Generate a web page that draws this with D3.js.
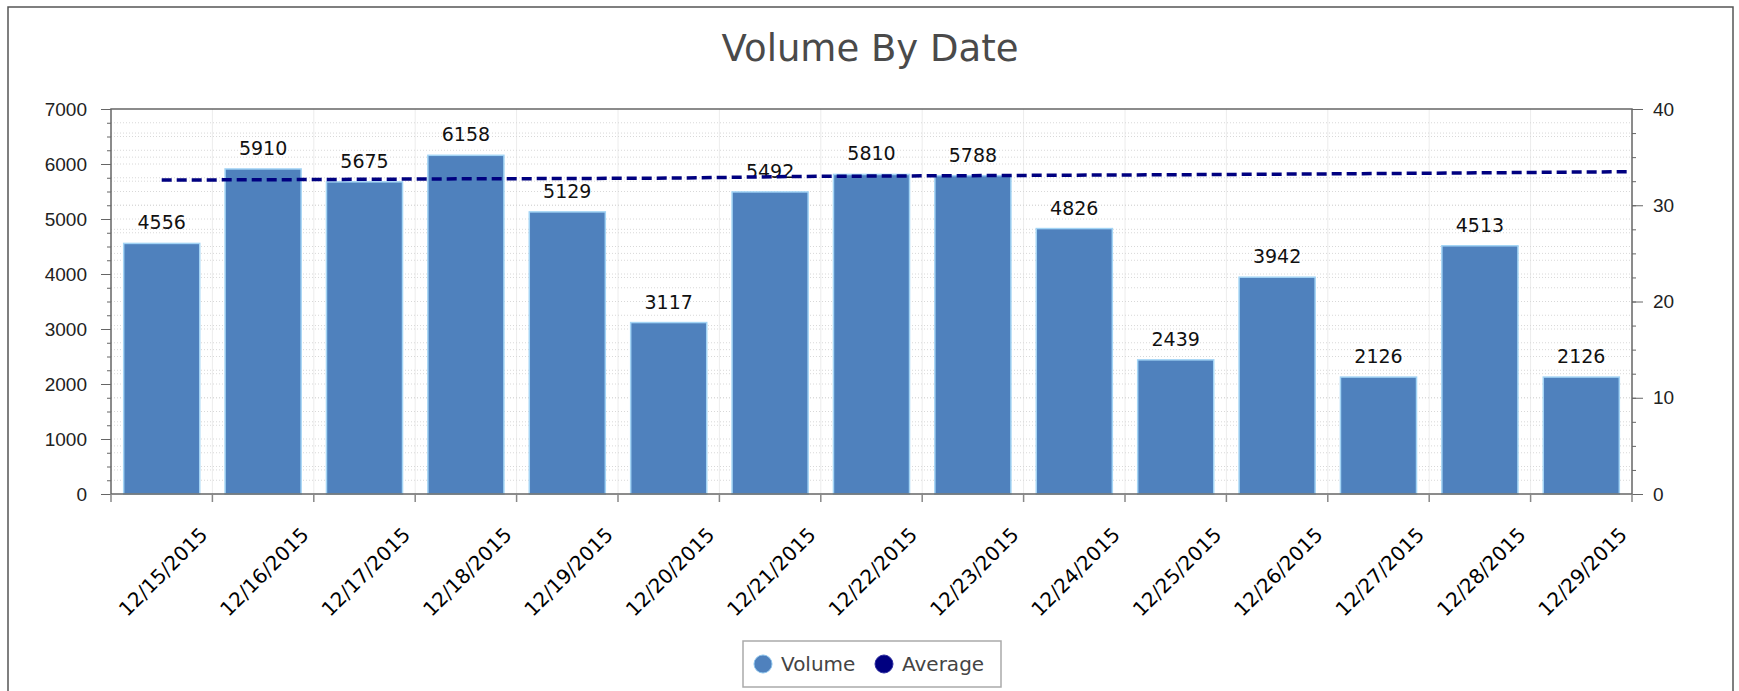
<!DOCTYPE html>
<html>
<head>
<meta charset="utf-8">
<script src="https://cdn.jsdelivr.net/npm/d3@7"></script>
<style>
  body { margin: 0; background: #fff; }
  svg { display: block; font-family: "DejaVu Sans", Verdana, sans-serif; }
  .grid line { stroke: #d8d8d8; stroke-dasharray: 1,2; }
  .vgrid line { stroke: #ececec; }
  .axis path, .axis line { stroke: #666; }
  .axis text { fill: #222; font-size: 19px; }
</style>
</head>
<body>
<svg id="chart" width="1739" height="691"></svg>
<script>
"use strict";

var dates = ["12/15/2015", "12/16/2015", "12/17/2015", "12/18/2015", "12/19/2015",
  "12/20/2015", "12/21/2015", "12/22/2015", "12/23/2015", "12/24/2015",
  "12/25/2015", "12/26/2015", "12/27/2015", "12/28/2015", "12/29/2015"];
var volume = [4556, 5910, 5675, 6158, 5129, 3117, 5492, 5810, 5788, 4826, 2439, 3942, 2126, 4513, 2126];
var average = [32.62, 32.65, 32.70, 32.75, 32.78, 32.83, 32.99, 33.04, 33.09, 33.14, 33.19, 33.25, 33.32, 33.40, 33.49];
var leftTicks = [0, 1000, 2000, 3000, 4000, 5000, 6000, 7000];
var rightTicks = [0, 10, 20, 30, 40];
var legendItems = [{ name: "Volume", color: "#4f81bd" }, { name: "Average", color: "#000080" }];

var W = 1739, H = 691;
var plot = { left: 111, top: 109, right: 1632, bottom: 494 };

var svg = d3.select("#chart");

// outer frame, bottom edge falls outside the picture
svg.append("rect")
  .attr("x", 8).attr("y", 7)
  .attr("width", 1725).attr("height", 700)
  .attr("fill", "none")
  .attr("stroke", "#555")
  .attr("stroke-width", 1.5);

svg.append("text")
  .attr("x", 870).attr("y", 61)
  .attr("text-anchor", "middle")
  .attr("fill", "#4a4a4a")
  .style("font-size", "37px")
  .text("Volume By Date");

var x = d3.scaleBand()
  .domain(dates)
  .range([plot.left, plot.right])
  .paddingInner(0.25)
  .paddingOuter(0.125);

var yL = d3.scaleLinear().domain([0, 7000]).range([plot.bottom, plot.top]);
var yR = d3.scaleLinear().domain([0, 40]).range([plot.bottom, plot.top]);

var xLine = d3.scalePoint()
  .domain(dates)
  .range([x(dates[0]) + x.bandwidth() / 2, plot.right - 4]);

var boundaries = dates.map(function(d) {
  return x(d) - x.step() * x.paddingInner() / 2;
}).concat([plot.right]);

// grid
svg.append("g")
  .attr("class", "vgrid")
  .selectAll("line")
  .data(boundaries.slice(1, -1))
  .join("line")
  .attr("x1", function(d) { return d; })
  .attr("x2", function(d) { return d; })
  .attr("y1", plot.top).attr("y2", plot.bottom);

svg.append("g")
  .attr("class", "grid")
  .selectAll("line")
  .data(d3.range(250, 7000, 250))
  .join("line")
  .attr("x1", plot.left).attr("x2", plot.right)
  .attr("y1", function(d) { return yL(d); })
  .attr("y2", function(d) { return yL(d); });

svg.append("g")
  .attr("class", "grid")
  .selectAll("line")
  .data(d3.range(2.5, 40, 2.5))
  .join("line")
  .attr("x1", plot.left).attr("x2", plot.right)
  .attr("y1", function(d) { return yR(d); })
  .attr("y2", function(d) { return yR(d); });

// bars
svg.append("g")
  .selectAll("rect")
  .data(volume)
  .join("rect")
  .attr("x", function(d, i) { return x(dates[i]); })
  .attr("y", function(d) { return yL(d); })
  .attr("width", x.bandwidth())
  .attr("height", function(d) { return yL(0) - yL(d); })
  .attr("fill", "#4f81bd")
  .attr("stroke", "#a3d4f5")
  .attr("stroke-width", 1.5);

svg.append("g")
  .selectAll("text")
  .data(volume)
  .join("text")
  .attr("x", function(d, i) { return x(dates[i]) + x.bandwidth() / 2; })
  .attr("y", function(d) { return yL(d) - 14; })
  .attr("text-anchor", "middle")
  .attr("fill", "#111")
  .style("font-size", "19px")
  .text(function(d) { return d; });

// average line
var line = d3.line()
  .x(function(d, i) { return xLine(dates[i]); })
  .y(function(d) { return yR(d); });

svg.append("path")
  .datum(average)
  .attr("d", line)
  .attr("fill", "none")
  .attr("stroke", "#000080")
  .attr("stroke-width", 3.5)
  .attr("stroke-dasharray", "10,5");

// frame
svg.append("rect")
  .attr("x", plot.left).attr("y", plot.top)
  .attr("width", plot.right - plot.left)
  .attr("height", plot.bottom - plot.top)
  .attr("fill", "none")
  .attr("stroke", "#666")
  .attr("stroke-width", 1.5);

// axes
var leftAxis = svg.append("g")
  .attr("class", "axis")
  .attr("transform", "translate(" + plot.left + ",0)")
  .call(d3.axisLeft(yL).tickValues(leftTicks).tickSize(10).tickPadding(14).tickFormat(d3.format("d")));

svg.append("g")
  .attr("class", "axis")
  .attr("transform", "translate(" + plot.left + ",0)")
  .call(d3.axisLeft(yL).tickValues(d3.range(250, 7000, 250)).tickSize(4).tickFormat(""));

svg.append("g")
  .attr("class", "axis")
  .attr("transform", "translate(" + plot.right + ",0)")
  .call(d3.axisRight(yR).tickValues(rightTicks).tickSize(11).tickPadding(10));

svg.append("g")
  .attr("class", "axis")
  .attr("transform", "translate(" + plot.right + ",0)")
  .call(d3.axisRight(yR).tickValues(d3.range(2.5, 40, 2.5)).tickSize(4).tickFormat(""));

svg.selectAll(".axis path.domain").remove();

svg.append("g")
  .selectAll("line")
  .data(boundaries)
  .join("line")
  .attr("x1", function(d) { return d; })
  .attr("x2", function(d) { return d; })
  .attr("y1", plot.bottom).attr("y2", plot.bottom + 8)
  .attr("stroke", "#888")
  .attr("stroke-width", 1.5);

svg.append("g")
  .selectAll("text")
  .data(dates)
  .join("text")
  .attr("transform", function(d) {
    var px = x(d) + x.bandwidth() / 2 + 47;
    return "translate(" + px + "," + (plot.bottom + 42) + ") rotate(-45)";
  })
  .attr("text-anchor", "end")
  .attr("fill", "#000")
  .style("font-size", "20px")
  .text(function(d) { return d; });

// legend
var legend = svg.append("g");
legend.append("rect")
  .attr("x", 743).attr("y", 641)
  .attr("width", 258).attr("height", 46)
  .attr("fill", "#fff")
  .attr("stroke", "#aaa")
  .attr("stroke-width", 1.5);

var legendX = [763, 884];
var item = legend.selectAll("g")
  .data(legendItems)
  .join("g")
  .attr("transform", function(d, i) { return "translate(" + legendX[i] + ",664)"; });

item.append("circle")
  .attr("r", 9)
  .attr("fill", function(d) { return d.color; })
  .attr("stroke", function(d, i) { return i === 0 ? "#8cc3ec" : "#3030a0"; })
  .attr("stroke-width", 1);

item.append("text")
  .attr("x", 18).attr("y", 7)
  .attr("fill", "#444")
  .style("font-size", "20px")
  .text(function(d) { return d.name; });
</script>
</body>
</html>
